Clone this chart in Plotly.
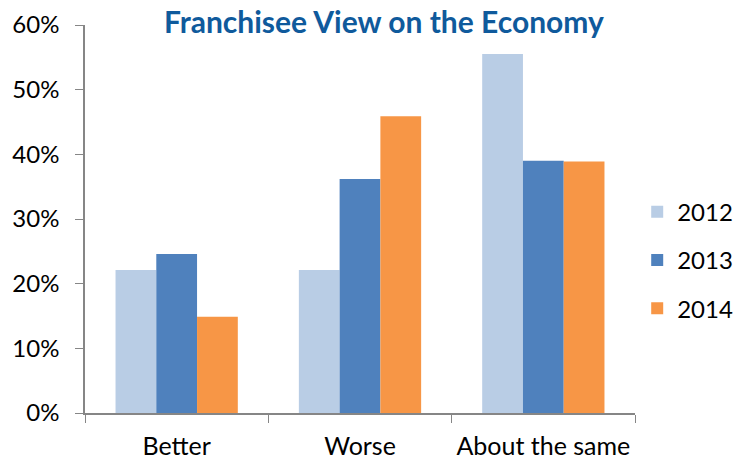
import plotly.graph_objects as go

categories = ["Better", "Worse", "About the same"]
years = ["2012", "2013", "2014"]
values_2012 = [0.221, 0.221, 0.555]
values_2013 = [0.246, 0.362, 0.390]
values_2014 = [0.149, 0.459, 0.389]
colors = ["#B9CDE5", "#4F81BD", "#F79646"]

fig = go.Figure()
for i, (yr, vals) in enumerate(zip(years, [values_2012, values_2013, values_2014])):
    fig.add_trace(go.Bar(
        x=categories, y=vals, name=yr,
        marker=dict(color=colors[i], line=dict(width=0)),
        legendgroup=yr,
    ))

font_family = "Lato, 'Open Sans', sans-serif"
fig.update_layout(
    width=744, height=459,
    margin=dict(l=85, r=109, t=25, b=46, autoexpand=False),
    paper_bgcolor="white", plot_bgcolor="white",
    barmode="group", bargap=0.333, bargroupgap=0,
    font=dict(family=font_family, size=24, color="#000000"),
    title=dict(
        text="<b>Franchisee View on the Economy</b>",
        font=dict(family=font_family, size=30, color="#0F5A9C"),
        x=0.516, xanchor="center", xref="container",
        y=0.950, yanchor="middle", yref="container",
    ),
    legend=dict(
        x=1.004, xanchor="left", y=0.394, yanchor="middle",
        traceorder="grouped", tracegroupgap=14,
        font=dict(family=font_family, size=24),
        itemwidth=30,
    ),
    xaxis=dict(
        showline=True, linecolor="#868686", linewidth=1.5,
        ticks="outside", tickson="boundaries", ticklen=8, tickcolor="#868686",
        showgrid=False, tickfont=dict(size=25), ticklabelstandoff=10,
        tickangle=0, automargin=False,
    ),
    yaxis=dict(
        range=[0, 0.6], dtick=0.1, tickformat=".0%",
        showline=True, linecolor="#868686", linewidth=1.5,
        ticks="outside", ticklen=8, tickcolor="#868686",
        showgrid=False, zeroline=False, tickfont=dict(size=24),
        ticklabelstandoff=11, automargin=False,
    ),
)

fig.write_html(
    "out.html",
    config={"displayModeBar": False},
    post_script="document.body.style.margin='0';document.body.style.padding='0';",
)
